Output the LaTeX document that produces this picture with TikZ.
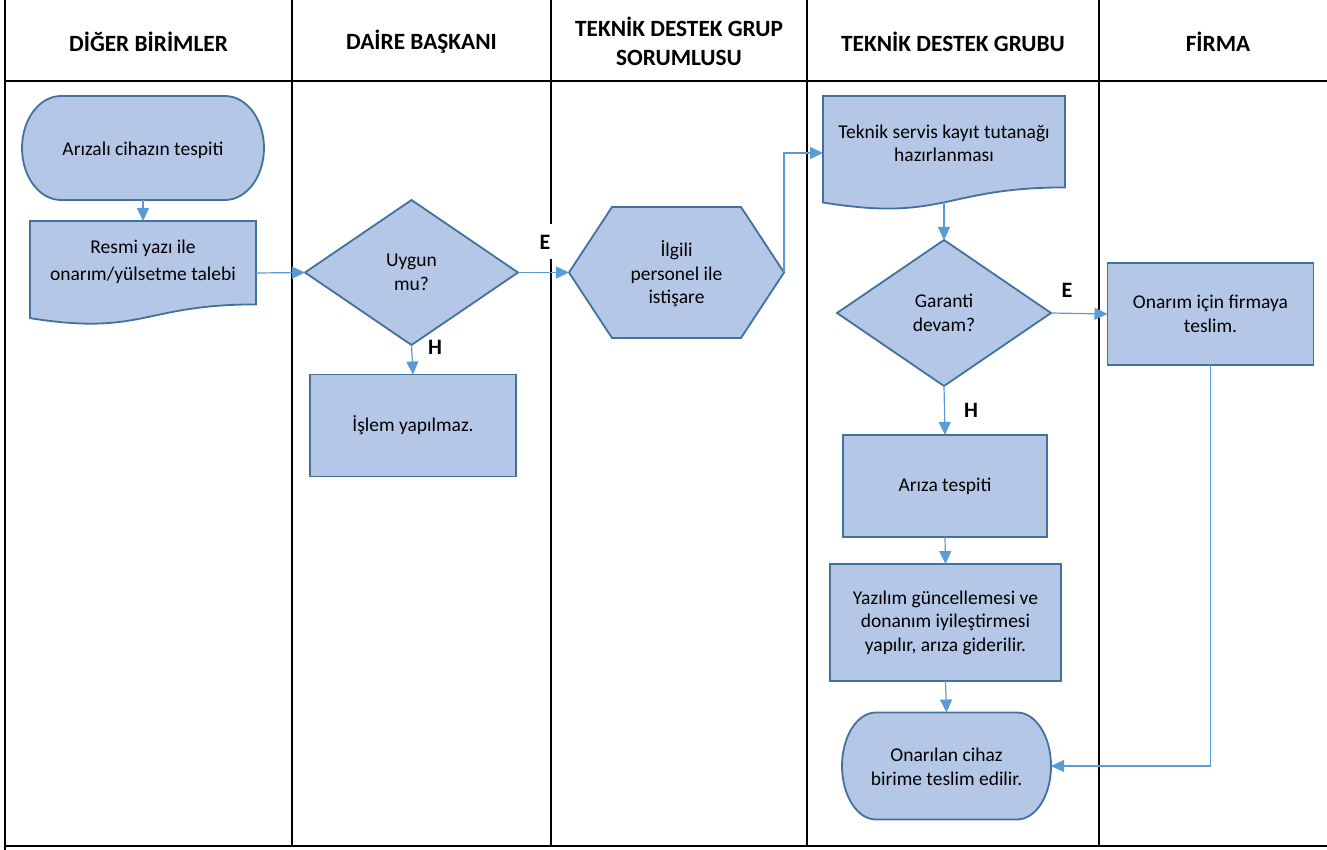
\documentclass[tikz,border=0pt]{standalone}
\usepackage{fontspec}
\setmainfont{Carlito}
\usetikzlibrary{arrows.meta,calc,shapes.geometric}
\definecolor{fillc}{HTML}{B4C7E7}
\definecolor{bordc}{HTML}{41719C}
\definecolor{linec}{HTML}{5B9BD5}
\newcommand\bodyfnt{\fontsize{19.5}{23.5}\selectfont}
\newcommand\hdrfnt{\fontsize{23.3}{29}\selectfont\bfseries}
\newcommand\lblfnt{\fontsize{22}{24}\selectfont\bfseries}
\newcommand\mydoc[4]{%
  \draw[shp] (#1,#2) -- ({#1+#3},#2) -- ({#1+#3},{#2+0.802*#4})
    .. controls ({#1+0.5*#3},{#2+0.802*#4}) and ({#1+0.5*#3},{#2+1.1075*#4}) ..
    (#1,{#2+0.934*#4}) -- cycle;}
\newcommand\myterm[3]{% node name, rx, ry
  \draw[shp] ($(#1.north west)+(#2,0)$) -- ($(#1.north east)+(-#2,0)$)
    arc[start angle=90,end angle=-90,x radius=#2pt,y radius=#3pt]
    -- ($(#1.south west)+(#2,0)$)
    arc[start angle=270,end angle=90,x radius=#2pt,y radius=#3pt] -- cycle;}
\tikzset{
  grid/.style={draw=black, line width=2pt},
  shp/.style={draw=bordc, fill=fillc, line width=1.8pt, line join=miter},
  area/.style={rectangle, draw=none, inner sep=0pt, outer sep=0pt},
  txt/.style={align=center, font=\bodyfnt, inner sep=0pt},
  proc/.style={rectangle, shp, align=center, font=\bodyfnt, inner sep=0pt, outer sep=0pt},
  dec/.style={diamond, shp, align=center, font=\bodyfnt, inner sep=0pt, outer sep=0pt},
  conn/.style={draw=linec, line width=1.2pt, -{Triangle[length=13pt,width=12pt]}},
  lbl/.style={font=\lblfnt, inner sep=0pt},
  hdr/.style={font=\hdrfnt, align=center, inner sep=0pt}
}
\begin{document}
\begin{tikzpicture}[x=1pt,y=-1pt]
\useasboundingbox (0,0) rectangle (1327,850);
% table grid
\draw[grid] (5,-5) -- (5,855);
\draw[grid] (292,-5) -- (292,846);
\draw[grid] (551,-5) -- (551,846);
\draw[grid] (807,-5) -- (807,846);
\draw[grid] (1099,-5) -- (1099,846);
\draw[grid] (4,81) -- (1340,81);
\draw[grid] (4,846) -- (1340,846);
% headers
\node[hdr] (h1) at (148.5,42) {DİĞER BİRİMLER};
\node[hdr] (h2) at (421.5,42) {DAİRE BAŞKANI};
\node[hdr] (h3) at (679,41.5) {TEKNİK DESTEK GRUP\\SORUMLUSU};
\node[hdr] (h4) at (953,42) {TEKNİK DESTEK GRUBU};
\node[hdr] (h5) at (1218,42) {FİRMA};
% shape areas
\node[area, minimum width=242, minimum height=104] (t1) at (143,148) {};
\node[area, minimum width=226, minimum height=104] (doc1) at (143,273) {};
\node[area, minimum width=215, minimum height=131] (hex) at (676.5,272.5) {};
\node[area, minimum width=242, minimum height=114] (doc2) at (944,153) {};
\node[area, minimum width=209, minimum height=107] (t2) at (946.5,766) {};
% custom shapes
\myterm{t1}{39}{52}
\mydoc{30}{221}{226}{104}
\draw[shp] (hex.west) -- ($(hex.north west)+(43,0)$) -- ($(hex.north east)+(-43,0)$)
  -- (hex.east) -- ($(hex.south east)+(-43,0)$) -- ($(hex.south west)+(43,0)$) -- cycle;
\mydoc{823}{96}{242}{114}
\myterm{t2}{34}{53.5}
% texts of custom shapes
\node[txt] (t1txt) at (143,150) {Arızalı cihazın tespiti};
\node[txt, font=\fontsize{19.5}{27}\selectfont] (doc1txt) at (143,262) {Resmi yazı ile\\onarım/yülsetme talebi};
\node[txt] (hextxt) at (676.5,274) {İlgili\\personel ile\\istişare};
\node[txt] (doc2txt) at (944,143.5) {Teknik servis kayıt tutanağı\\hazırlanması};
\node[txt] (t2txt) at (946.5,767) {Onarılan cihaz\\birime teslim edilir.};
% standard shapes
\node[dec, minimum width=213, minimum height=145] (dia1) at (411.5,272.5) {Uygun\\mu?};
\node[proc, minimum width=206, minimum height=102] (rect1) at (413,425.5) {İşlem yapılmaz.};
\node[dec, minimum width=214, minimum height=146] (dia2) at (944,313) {Garanti\\devam?};
\node[proc, minimum width=206, minimum height=102] (firma) at (1210.5,314) {Onarım için firmaya\\teslim.};
\node[proc, minimum width=204, minimum height=102] (ariza) at (945,486) {Arıza tespiti};
\node[proc, minimum width=231, minimum height=117] (yaz) at (945.5,622.5) {Yazılım güncellemesi ve\\donanım iyileştirmesi\\yapılır, arıza giderilir.};
% connectors
\draw[conn] (t1.south) -- (doc1.north);
\draw[conn] (doc1.east) -- (dia1.west);
\draw[conn] (dia1.east) -- (hex.west);
\draw[conn] (dia1.south) -- (rect1.north);
\draw[conn] (hex.east) |- (doc2.west);
\draw[conn] ($(doc2.north)!0.933!(doc2.south)$) -- (dia2.north);
\draw[conn] (dia2.east) -- (firma.west);
\draw[conn] (dia2.south) -- (ariza.north);
\draw[conn] (ariza.south) -- (yaz.north);
\draw[conn] (yaz.south) -- (t2.north);
\draw[conn] (firma.south) |- (t2.east);
% labels
\node[lbl, fill=white, minimum width=20, minimum height=35] (e1) at (545,242) {E};
\node[lbl] (h1l) at (435,347) {H};
\node[lbl] (e2) at (1067,290) {E};
\node[lbl] (h2l) at (971,410) {H};
\end{tikzpicture}
\end{document}
